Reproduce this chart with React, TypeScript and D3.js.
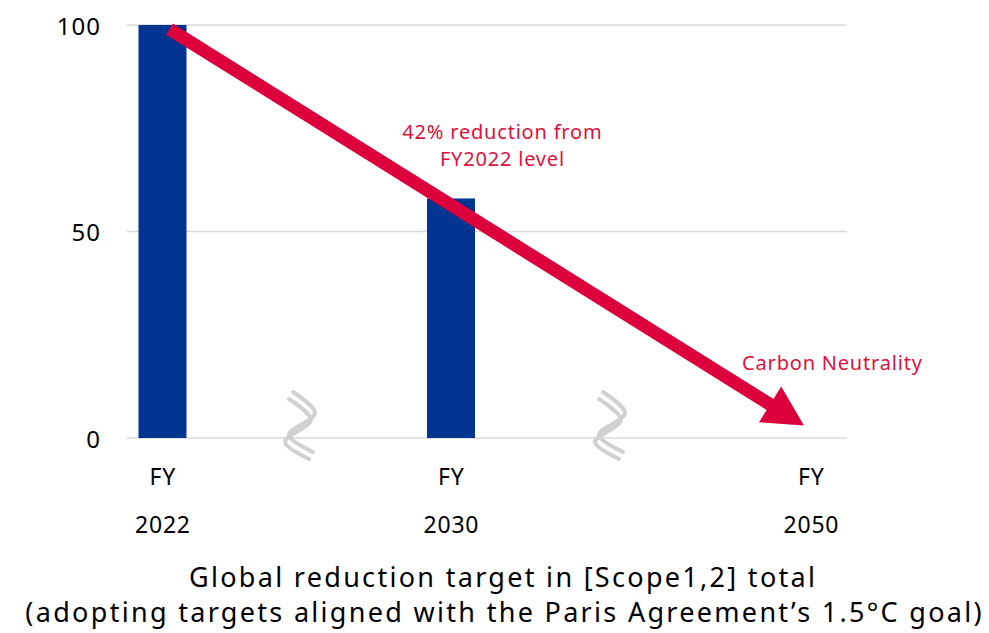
import React from "react";
import * as d3 from "d3";

// Reduction target, indexed to FY2022 = 100
const categories = ["2022", "2030", "2050"];
const values = [100, 58, 0];
const yTicks = [0, 50, 100];
const xLabelTop = ["FY", "FY", "FY"];
const titleLines = [
  "Global reduction target in [Scope1,2] total",
  "(adopting targets aligned with the Paris Agreement’s 1.5°C goal)",
];
const midNote = ["42% reduction from", "FY2022 level"];
const endNote = "Carbon Neutrality";
// Pathway arrow from the FY2022 level down to zero
const arrowFrom = { category: "2022", value: 99 };
const arrowTo = { category: "2050", value: 3 };

const W = 989;
const H = 633;
const FONT = "'Noto Sans', sans-serif";
const NAVY = "#003591";
const RED = "#DC003C";
const GRID = "#d9d9d9";

export default function App() {
  const plotLeft = 127;
  const plotRight = 847;
  const y = d3.scaleLinear().domain([0, 100]).range([438, 25]);
  const x = d3
    .scaleOrdinal<string, number>()
    .domain(categories)
    .range([162.5, 451, 811]);
  const barW = 48;

  // Wavy break marks on the category axis
  const breakXs = [303, 613];
  const wave = d3
    .line<[number, number]>()
    .curve(d3.curveCatmullRom.alpha(0.5));
  const waveA: [number, number][] = [
    [-10, -46],
    [12, -25],
    [-14, -3],
    [10, 14],
  ];
  const waveB: [number, number][] = waveA.map(([a, b]) => [a - 4, b + 7]);

  // Arrow geometry
  const x0 = x(arrowFrom.category) + 7;
  const y0 = y(arrowFrom.value);
  const x1 = x(arrowTo.category) - 7;
  const y1 = y(arrowTo.value);
  const len = Math.hypot(x1 - x0, y1 - y0);
  const ang = (Math.atan2(y1 - y0, x1 - x0) * 180) / Math.PI;
  const shaft = 6.5;
  const headL = 40;
  const headW = 21;
  const arrowPts = [
    [0, -shaft],
    [len - headL, -shaft],
    [len - headL, -headW],
    [len, 0],
    [len - headL, headW],
    [len - headL, shaft],
    [0, shaft],
  ]
    .map((p) => p.join(","))
    .join(" ");

  const axisLS = 1;
  const noteLS = 0.8;
  const titleLS = 2.3;

  return (
    <svg
      width={W}
      height={H}
      style={{ position: "absolute", left: 0, top: 0, background: "#fff" }}
      fontFamily={FONT}
    >
      {/* gridlines */}
      {yTicks.map((t) => (
        <line
          key={t}
          x1={plotLeft}
          x2={plotRight}
          y1={y(t)}
          y2={y(t)}
          stroke={GRID}
          strokeWidth={1.5}
        />
      ))}
      {/* y tick labels */}
      {yTicks.map((t) => (
        <text
          key={"l" + t}
          x={100 + axisLS}
          y={y(t)}
          textAnchor="end"
          dominantBaseline="central"
          fontSize={24}
          letterSpacing={axisLS}
          fill="#000"
        >
          {t}
        </text>
      ))}
      {/* bars */}
      {categories.map((c, i) =>
        values[i] > 0 ? (
          <rect
            key={c}
            x={x(c) - barW / 2}
            y={y(values[i])}
            width={barW}
            height={y(0) - y(values[i])}
            fill={NAVY}
          />
        ) : null
      )}
      {/* axis break marks */}
      {breakXs.map((bx) => (
        <g key={bx} transform={`translate(${bx},${y(0)})`}>
          <path
            d={wave(waveA) || ""}
            fill="none"
            stroke="#d0d0d0"
            strokeWidth={4}
            strokeLinecap="round"
          />
          <path
            d={wave(waveB) || ""}
            fill="none"
            stroke="#d0d0d0"
            strokeWidth={4}
            strokeLinecap="round"
          />
        </g>
      ))}
      {/* category labels */}
      {categories.map((c, i) => (
        <g key={"c" + c} letterSpacing={0.8}>
          <text
            x={x(c) + 0.4}
            y={476}
            textAnchor="middle"
            dominantBaseline="central"
            fontSize={23}
          >
            {xLabelTop[i]}
          </text>
          <text
            x={x(c) + 0.4}
            y={524}
            textAnchor="middle"
            dominantBaseline="central"
            fontSize={23}
          >
            {c}
          </text>
        </g>
      ))}
      {/* pathway arrow */}
      <polygon
        points={arrowPts}
        fill={RED}
        transform={`translate(${x0},${y0}) rotate(${ang})`}
      />
      {/* annotations */}
      {midNote.map((s, i) => (
        <text
          key={s}
          x={502 + noteLS / 2}
          y={131 + i * 27}
          textAnchor="middle"
          dominantBaseline="central"
          fontSize={20}
          letterSpacing={noteLS}
          fill="#E0103C"
        >
          {s}
        </text>
      ))}
      <text
        x={832 + noteLS / 2}
        y={362}
        textAnchor="middle"
        dominantBaseline="central"
        fontSize={20}
        letterSpacing={noteLS}
        fill="#E0103C"
      >
        {endNote}
      </text>
      {/* title */}
      {titleLines.map((s, i) => (
        <text
          key={s}
          x={(i === 0 ? 502 : 503.5) + titleLS / 2}
          y={576 + i * 35}
          textAnchor="middle"
          dominantBaseline="central"
          fontSize={27}
          letterSpacing={titleLS}
          fill="#000"
        >
          {s}
        </text>
      ))}
    </svg>
  );
}
